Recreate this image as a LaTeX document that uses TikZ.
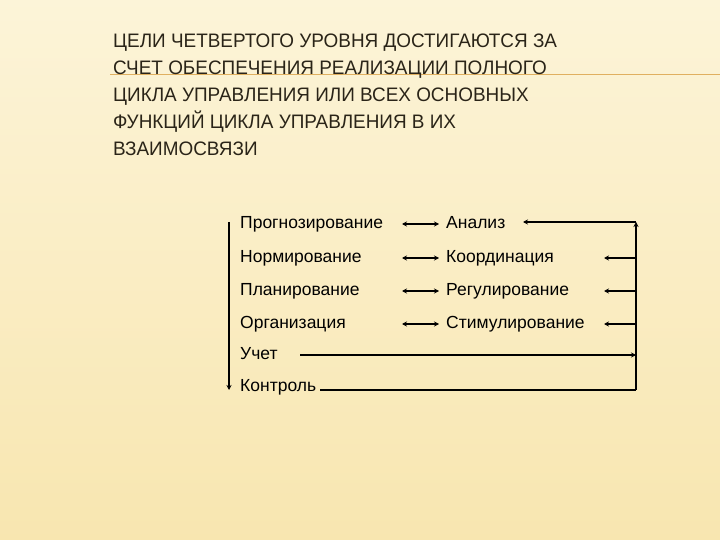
\documentclass[tikz,border=0pt]{standalone}
\usepackage{fontspec}
\setmainfont{Liberation Sans}
\usetikzlibrary{arrows.meta}
\definecolor{bgtop}{HTML}{FCF4D8}
\definecolor{bgbot}{HTML}{F8E6B0}
\definecolor{rule}{HTML}{E0B060}
\definecolor{ink}{HTML}{2A2418}
\tikzset{
 lbl/.style={anchor=west,inner sep=0pt,text height=12pt,text depth=3pt,font=\fontsize{17.5}{20}\selectfont},
 ttl/.style={anchor=north west,inner sep=0pt,align=left,text=ink,font=\fontsize{19.5}{26.8}\selectfont},
 con/.style={line width=1.4pt,-{Stealth[length=5pt,width=5pt]}},
 dbl/.style={line width=1.4pt,{Stealth[length=5pt,width=5pt]}-{Stealth[length=5pt,width=5pt]}},
 pl/.style={line width=1.4pt}
}
\begin{document}
\begin{tikzpicture}[x=1pt,y=-1pt]
\useasboundingbox (0,0) rectangle (720,540);
\shade[top color=bgtop,bottom color=bgbot] (0,0) rectangle (720,540);
\draw[rule,line width=1pt] (110,75) -- (720,75);
\node[ttl] (title) at (113,34) {\scalebox{0.97}[1]{\parbox{600pt}{ЦЕЛИ ЧЕТВЕРТОГО УРОВНЯ ДОСТИГАЮТСЯ ЗА\\СЧЕТ ОБЕСПЕЧЕНИЯ РЕАЛИЗАЦИИ ПОЛНОГО\\ЦИКЛА УПРАВЛЕНИЯ ИЛИ ВСЕХ ОСНОВНЫХ\\ФУНКЦИЙ ЦИКЛА УПРАВЛЕНИЯ В ИХ\\ВЗАИМОСВЯЗИ}}};
\node[lbl] (l1) at (240,224) {Прогнозирование};
\node[lbl] (l2) at (240,258) {Нормирование};
\node[lbl] (l3) at (240,291) {Планирование};
\node[lbl] (l4) at (240,324) {Организация};
\node[lbl] (l5) at (240,355) {Учет};
\node[lbl] (l6) at (240,387) {Контроль};
\node[lbl] (r1) at (446,224) {Анализ};
\node[lbl] (r2) at (446,258) {Координация};
\node[lbl] (r3) at (446,291) {Регулирование};
\node[lbl] (r4) at (446,324) {Стимулирование};
\foreach \i in {1,...,4}{\draw[dbl] (402,0 |- r\i.west) -- (439,0 |- r\i.west);}
\coordinate (rt) at (636,222);
\coordinate (rb) at (636,390);
\coordinate (lt) at (229,222);
\coordinate (lb) at (229,390);
\draw[pl] (rb) -- (636,227);
\draw[con] (636,228) -- (rt);
\draw[con] (rt) -- (523,222);
\draw[con] (rt |- r2.west) -- (604,0 |- r2.west);
\draw[con] (rt |- r3.west) -- (604,0 |- r3.west);
\draw[con] (rt |- r4.west) -- (604,0 |- r4.west);
\draw[con] (300,0 |- l5.west) -- (636,0 |- l5.west);
\draw[pl] (320,0 |- rb) -- (rb);
\draw[con] (lt) -- (lb);
\end{tikzpicture}
\end{document}
